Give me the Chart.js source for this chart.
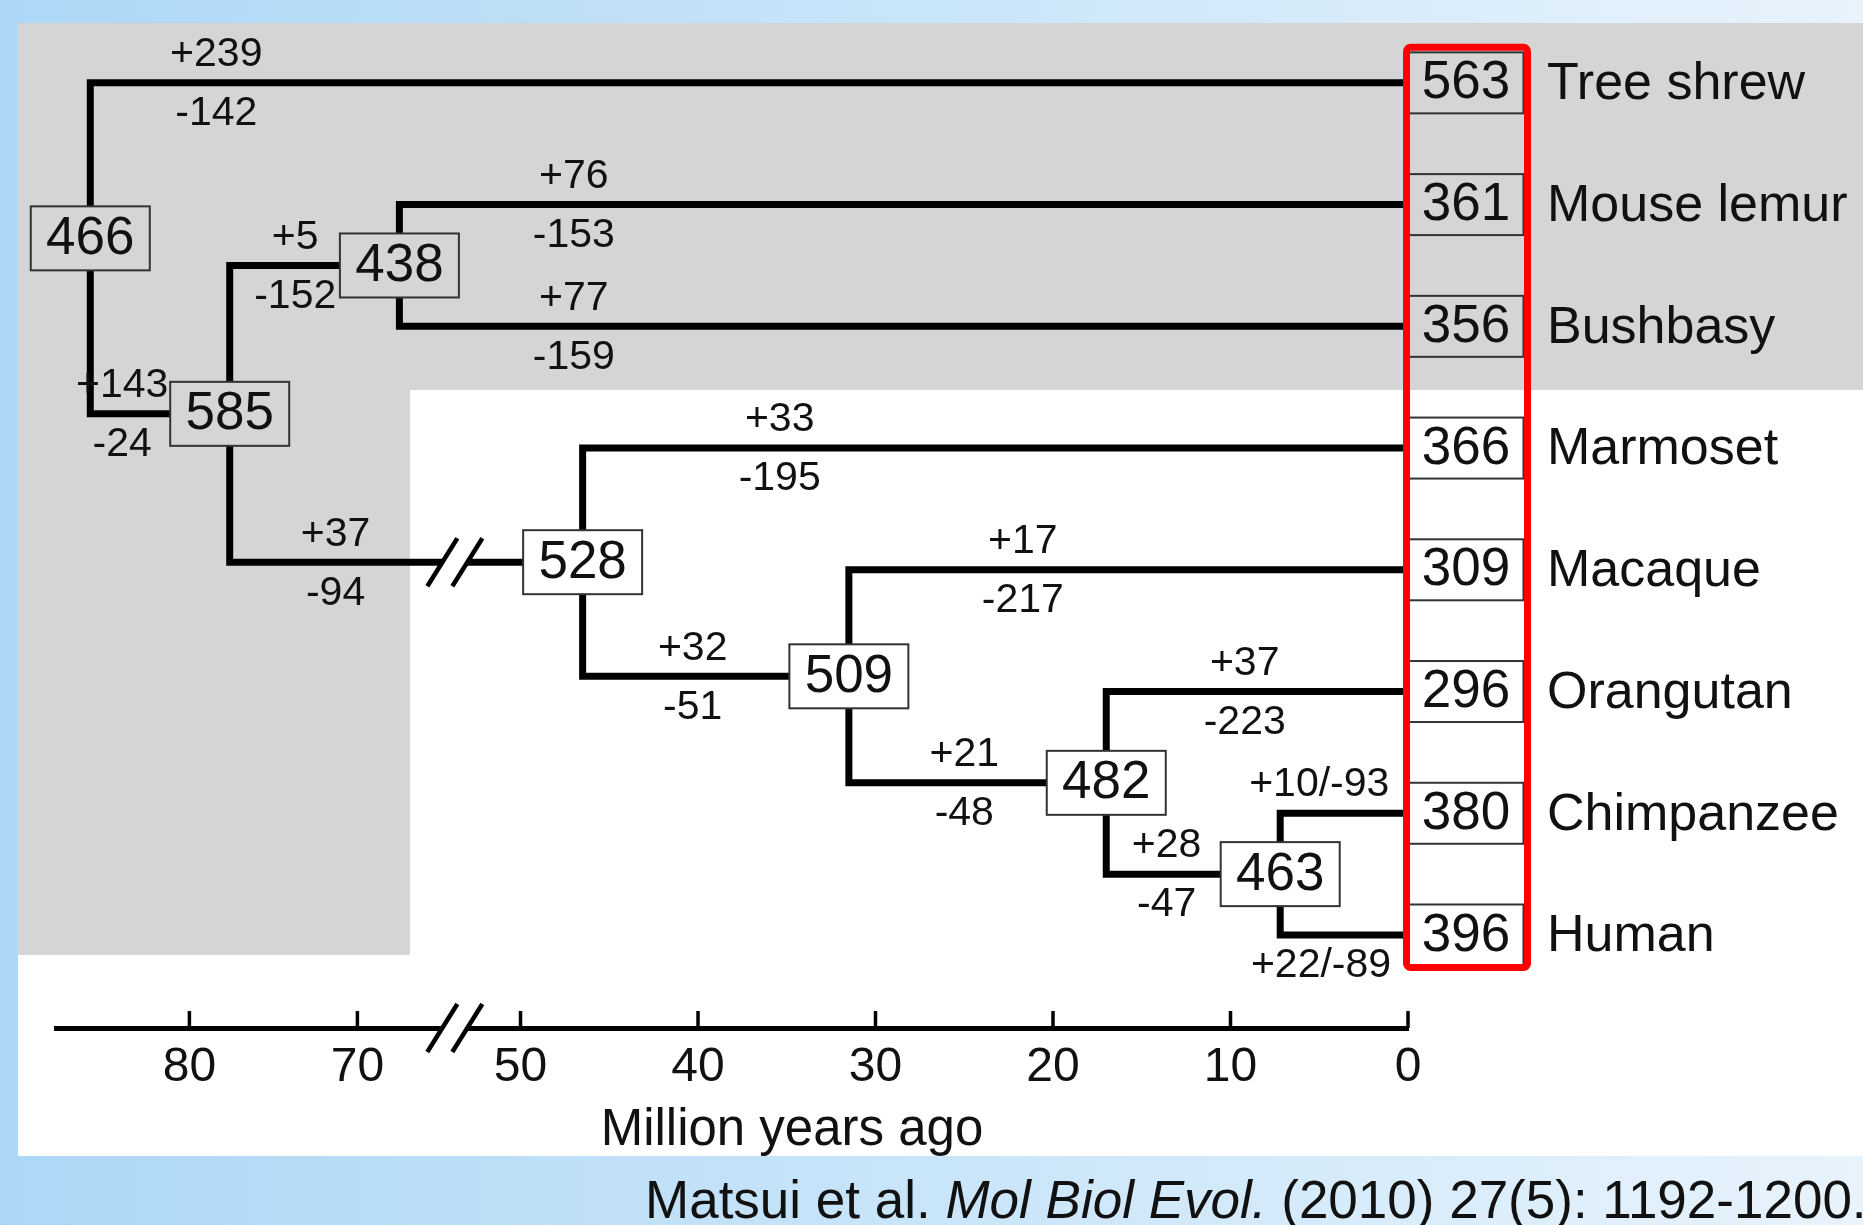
<!DOCTYPE html>
<html>
<head>
<meta charset="utf-8">
<script src="https://cdn.jsdelivr.net/npm/chart.js@4.4.1/dist/chart.umd.min.js"></script>
<style>
  html, body { margin: 0; padding: 0; overflow: hidden; background: #fff; }
  #wrap { width: 1863px; height: 1225px; position: relative; }
</style>
</head>
<body>
<div id="wrap"><canvas id="tree"></canvas></div>
<script>
// leaves, top to bottom
const taxa = ['Tree shrew', 'Mouse lemur', 'Bushbasy', 'Marmoset', 'Macaque', 'Orangutan', 'Chimpanzee', 'Human'];
const taxaGenes = [563, 361, 356, 366, 309, 296, 380, 396];
const taxaGain = [239, 76, 77, 33, 17, 37, 10, 22];
const taxaLoss = [-142, -153, -159, -195, -217, -223, -93, -89];

// ancestral nodes (root first); children: t = taxon index, n = node index
const nodeGenes = [466, 585, 438, 528, 509, 482, 463];
const nodeAge = [85.9, 77.6, 67.5, 46.5, 31.5, 17.0, 7.2];
const nodeChildren = [['t0', 'n1'], ['n2', 'n3'], ['t1', 't2'], ['t3', 'n4'], ['t4', 'n5'], ['t5', 'n6'], ['t6', 't7']];
const nodeGain = [null, 143, 5, 37, 32, 21, 28];
const nodeLoss = [null, -24, -152, -94, -51, -48, -47];

const tickAges = [0, 10, 20, 30, 40, 50, 70, 80];

// where the +/- labels sit along each branch (in My)
const taxaLabelAge = [78.4, 47.0, 47.0, 35.4, 21.7, 9.2, 5.0, 4.9];
const nodeLabelAge = [null, 84.0, 73.7, 71.3, 40.3, 25.0, 13.6];
const combined = { 6: 'above', 7: 'below' };

// broken time axis: 0-53.7 My at full scale, >64.2 My slightly compressed
const BREAK_LO = 53.7, BREAK_HI = 64.2, LEFT_RATIO = 0.9465;
function toAxis(a) {
  if (a <= BREAK_LO) return a;
  return Math.max(BREAK_LO, BREAK_LO + (a - BREAK_HI) * LEFT_RATIO);
}

const FONT = '"Liberation Sans", Arial, Helvetica, sans-serif';
const GRAY = '#d5d5d5';

function yOf(ref) {
  const i = +ref.slice(1);
  if (ref[0] === 't') return i;
  return (yOf(nodeChildren[i][0]) + yOf(nodeChildren[i][1])) / 2;
}
function ageOf(ref) {
  return ref[0] === 't' ? 0 : nodeAge[+ref.slice(1)];
}

const datasets = nodeChildren.map((kids, i) => {
  const y0 = yOf(kids[0]), y1 = yOf(kids[1]);
  const x = toAxis(nodeAge[i]);
  return {
    data: [
      { x: toAxis(ageOf(kids[0])), y: y0 },
      { x: x, y: y0 },
      { x: x, y: y1 },
      { x: toAxis(ageOf(kids[1])), y: y1 }
    ],
    showLine: true,
    borderColor: '#000',
    borderWidth: 7,
    borderJoinStyle: 'miter',
    borderCapStyle: 'butt',
    pointRadius: 0,
    clip: false
  };
});

function inGray(x, y) {
  return y < 390 || (x < 410 && y < 955);
}

function drawSlashes(ctx, cx, cy) {
  ctx.save();
  ctx.fillStyle = '#fff';
  ctx.fillRect(cx - 12, cy - 6, 24, 12);
  ctx.strokeStyle = '#000';
  ctx.lineWidth = 4.5;
  [-12.5, 12.5].forEach(d => {
    ctx.beginPath();
    ctx.moveTo(cx + d - 15, cy + 24);
    ctx.lineTo(cx + d + 15, cy - 24);
    ctx.stroke();
  });
  ctx.restore();
}

function box(ctx, cx, cy, w, h, text, fill) {
  ctx.fillStyle = fill;
  ctx.fillRect(cx - w / 2, cy - h / 2, w, h);
  ctx.strokeStyle = '#333';
  ctx.lineWidth = 2;
  ctx.strokeRect(cx - w / 2, cy - h / 2, w, h);
  ctx.fillStyle = '#111';
  ctx.font = '53px ' + FONT;
  ctx.textAlign = 'center';
  ctx.textBaseline = 'middle';
  ctx.fillText(text, cx, cy + 1);
}

const backdrop = {
  id: 'backdrop',
  beforeDraw(chart) {
    const ctx = chart.ctx;
    const W = chart.width, H = chart.height;
    ctx.save();
    const g = ctx.createLinearGradient(0, 0, W, 0);
    g.addColorStop(0, '#acd7f6');
    g.addColorStop(0.5, '#c9e5f9');
    g.addColorStop(1, '#e8f3fc');
    ctx.fillStyle = g;
    ctx.fillRect(0, 0, W, H);
    ctx.fillStyle = '#fff';
    ctx.fillRect(18, 23, W - 18, 1156 - 23);
    ctx.fillStyle = GRAY;
    ctx.fillRect(18, 23, W - 18, 390 - 23);
    ctx.fillRect(18, 23, 410 - 18, 955 - 23);
    ctx.restore();
  }
};

const marks = {
  id: 'marks',
  afterDatasetsDraw(chart) {
    const ctx = chart.ctx;
    const xs = chart.scales.x, ys = chart.scales.y;
    const px = a => xs.getPixelForValue(toAxis(a));
    const py = v => ys.getPixelForValue(v);
    ctx.save();

    // tick marks pointing up from the axis line
    ctx.strokeStyle = '#000';
    ctx.lineWidth = 3.5;
    tickAges.forEach(a => {
      const x = px(a);
      ctx.beginPath();
      ctx.moveTo(x, xs.top);
      ctx.lineTo(x, xs.top - 17);
      ctx.stroke();
    });

    // breaks on the axis and on the long branch
    const bx = xs.getPixelForValue(BREAK_LO);
    drawSlashes(ctx, bx, xs.top);
    drawSlashes(ctx, bx, py(yOf('n3')));

    // branch gain / loss labels
    ctx.fillStyle = '#111';
    ctx.font = '41px ' + FONT;
    ctx.textAlign = 'center';
    ctx.textBaseline = 'middle';
    taxa.forEach((t, i) => {
      const x = px(taxaLabelAge[i]), y = py(i);
      if (combined[i] === 'above') {
        ctx.fillText('+' + taxaGain[i] + '/' + taxaLoss[i], x, y - 29);
      } else if (combined[i] === 'below') {
        ctx.fillText('+' + taxaGain[i] + '/' + taxaLoss[i], x, y + 31);
      } else {
        ctx.fillText('+' + taxaGain[i], x, y - 28);
        ctx.fillText(String(taxaLoss[i]), x, y + 31);
      }
    });
    nodeGenes.forEach((n, i) => {
      if (nodeGain[i] === null) return;
      const x = px(nodeLabelAge[i]), y = py(yOf('n' + i));
      ctx.fillText('+' + nodeGain[i], x, y - 28);
      ctx.fillText(String(nodeLoss[i]), x, y + 31);
    });

    // ancestral gene counts
    nodeGenes.forEach((n, i) => {
      const x = px(nodeAge[i]);
      let y = py(yOf('n' + i));
      if (i === 0) y -= 10;
      box(ctx, x, y, 119, 64, String(n), inGray(x, y) ? GRAY : '#fff');
    });

    // extant gene counts and names
    const right = xs.right;
    taxa.forEach((t, i) => {
      const y = py(i);
      box(ctx, right + 58, y, 115, 61, String(taxaGenes[i]), inGray(right + 58, y) ? GRAY : '#fff');
      ctx.fillStyle = '#111';
      ctx.font = '52px ' + FONT;
      ctx.textAlign = 'left';
      ctx.textBaseline = 'middle';
      ctx.fillText(t, right + 139, y + 2);
    });

    // red frame round the extant counts
    ctx.strokeStyle = '#ff0000';
    ctx.lineWidth = 7;
    ctx.beginPath();
    ctx.roundRect(right - 1.5, py(0) - 35.5, 121, py(taxa.length - 1) - py(0) + 68, 4);
    ctx.stroke();

    // axis title
    ctx.fillStyle = '#111';
    ctx.font = '51px ' + FONT;
    ctx.textAlign = 'center';
    ctx.textBaseline = 'alphabetic';
    ctx.fillText('Million years ago', 792, 1145);

    // citation
    const parts = [['Matsui et al. ', ''], ['Mol Biol Evol.', 'italic '], [' (2010) 27(5): 1192-1200.', '']];
    let cx = 645;
    ctx.textAlign = 'left';
    parts.forEach(([s, st]) => {
      ctx.font = st + '53px ' + FONT;
      ctx.fillText(s, cx, 1218);
      cx += ctx.measureText(s).width;
    });

    ctx.restore();
  }
};

new Chart(document.getElementById('tree'), {
  type: 'scatter',
  data: { datasets: datasets },
  options: {
    responsive: true,
    maintainAspectRatio: false,
    animation: false,
    events: [],
    layout: { padding: { left: 56, right: 455, top: 22, bottom: 0 } },
    plugins: { legend: { display: false }, tooltip: { enabled: false } },
    scales: {
      x: {
        type: 'linear',
        reverse: true,
        min: 0,
        max: 76.17,
        afterBuildTicks: scale => {
          scale.ticks = tickAges.map(a => ({ value: toAxis(a) }));
        },
        afterFit: scale => { scale.height = 197; },
        grid: { display: false, drawTicks: false },
        border: { display: true, color: '#000', width: 5 },
        ticks: {
          autoSkip: false,
          maxRotation: 0,
          padding: 11,
          color: '#111',
          font: { family: FONT, size: 48, lineHeight: 1.2 },
          callback: (v, i) => String(tickAges[i])
        }
      },
      y: {
        type: 'linear',
        display: false,
        reverse: true,
        min: -0.5,
        max: 7.764
      }
    }
  },
  plugins: [backdrop, marks]
});
</script>
</body>
</html>
